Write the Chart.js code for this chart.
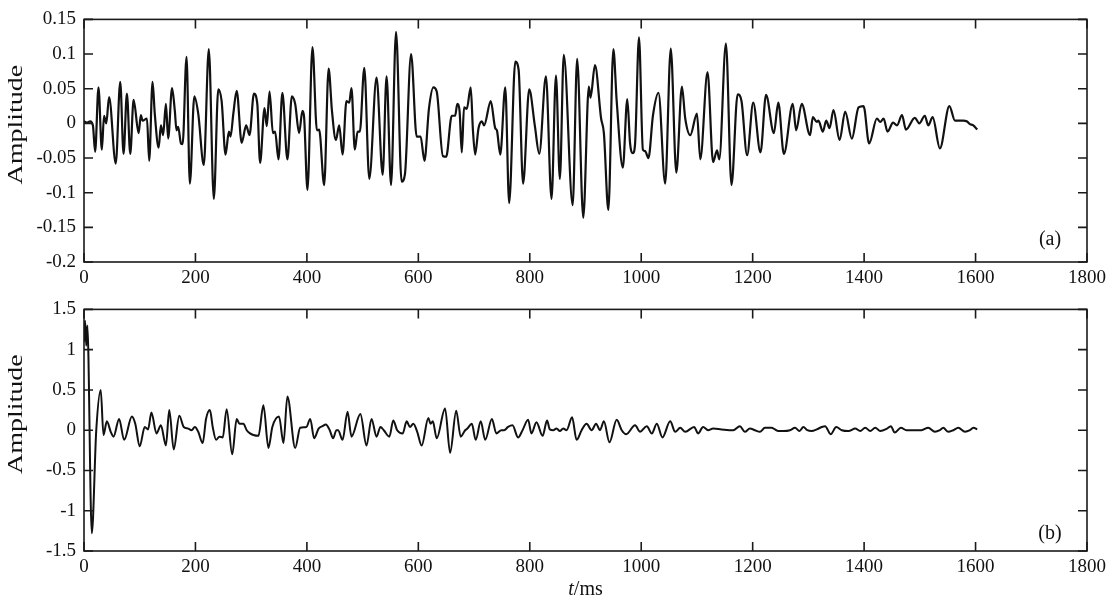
<!DOCTYPE html>
<html>
<head>
<meta charset="utf-8">
<script src="https://cdn.jsdelivr.net/npm/chart.js@4.4.1/dist/chart.umd.min.js"></script>
<style>
  body { margin: 0; background: #fff; width: 1113px; height: 600px; overflow: hidden; position: relative; }
  #wa { position: absolute; left: 0; top: 0; }
  #wb { position: absolute; left: 0; top: 290px; }
  #xt { position: absolute; left: 84px; width: 1003px; top: 577px; text-align: center;
        font-family: 'Liberation Serif', serif; font-size: 20px; color: #111; }
</style>
</head>
<body>
<canvas id="wa" width="1113" height="290"></canvas>
<canvas id="wb" width="1113" height="310"></canvas>
<div id="xt"><i>t</i>/ms</div>
<script>
// (a) trace: time (ms) and amplitude at its turning points
let timeA = [0,6,11,16,20,26,32,36,40,45,57,65,71,77,83,89,98,102,105,113,117,123,127,134,138,142,147,151,158,163,166,169,174,177,184,190,198,205,215,224,233,241,247,254,260,263,268,274,283,291,297,305,311,316,324,328,333,339,343,349,356,365,373,379,386,392,395,401,410,418,422,431,439,445,452,458,464,471,476,480,486,491,495,503,512,525,536,543,551,560,570,576,587,597,604,611,619,627,633,644,650,660,666,670,674,678,682,687,694,698,702,708,714,718,730,738,741,747,756,763,774,780,788,799,809,817,829,839,847,854,861,877,885,896,906,909,917,928,933,941,950,956,967,975,980,985,989,996,1003,1007,1013,1021,1031,1043,1053,1063,1073,1079,1088,1100,1106,1119,1129,1136,1140,1152,1162,1173,1180,1190,1201,1214,1224,1238,1246,1256,1272,1278,1288,1303,1308,1315,1318,1326,1332,1338,1345,1356,1366,1378,1390,1399,1409,1423,1429,1435,1442,1452,1459,1468,1475,1491,1499,1509,1515,1523,1536,1553,1563,1578,1584,1590,1596,1603];
let ampA = [0.003,0.001,0.003,-0.003,-0.041,0.052,-0.038,0.011,0.000,0.038,-0.058,0.060,-0.044,0.043,-0.044,0.034,-0.014,0.012,0.004,0.007,-0.054,0.060,0.014,-0.035,-0.003,-0.017,0.028,-0.022,0.051,0.018,-0.010,-0.005,-0.029,-0.030,0.096,-0.087,0.039,0.014,-0.060,0.107,-0.109,0.049,0.032,-0.045,-0.012,-0.019,0.014,0.047,-0.028,-0.003,-0.017,0.043,0.028,-0.057,0.022,-0.004,0.046,-0.014,-0.012,-0.052,0.044,-0.052,0.039,0.028,-0.014,0.018,0.009,-0.096,0.110,-0.010,-0.009,-0.089,0.079,0.018,-0.024,-0.003,-0.045,0.032,0.030,0.051,-0.038,-0.012,-0.012,0.080,-0.080,0.066,-0.074,0.068,-0.089,0.132,-0.084,-0.073,0.100,-0.019,-0.019,-0.054,0.021,0.052,0.046,-0.047,-0.048,0.011,0.011,0.028,0.018,-0.042,0.023,0.021,0.052,-0.010,-0.045,-0.007,0.003,-0.003,0.032,-0.007,-0.010,-0.045,0.052,-0.115,0.089,0.077,-0.087,0.049,-0.003,-0.044,0.068,-0.109,0.069,-0.080,0.099,-0.118,0.093,-0.136,0.053,0.037,0.084,0.007,-0.014,-0.125,0.107,0.032,-0.064,0.035,-0.029,-0.043,-0.029,0.124,-0.038,-0.040,-0.050,0.011,0.044,-0.087,0.108,-0.071,0.053,0.007,-0.017,0.014,-0.052,0.074,-0.056,-0.039,-0.052,0.115,-0.089,0.042,0.032,-0.046,0.030,-0.042,0.041,-0.014,0.030,-0.044,0.028,-0.010,0.028,-0.017,0.009,0.002,0.004,-0.012,0.004,-0.007,0.019,-0.024,0.017,-0.022,0.023,0.025,-0.029,0.007,0.002,0.007,-0.012,0.001,-0.003,0.012,-0.009,0.008,0.000,0.011,-0.003,0.009,-0.036,0.025,0.004,0.004,0.003,-0.001,-0.003,-0.009];

// (b) trace
let timeB = [0,2,4,6,14,22,30,35,41,48,53,63,72,86,92,100,109,115,121,130,138,147,153,161,171,179,187,193,199,205,213,219,226,231,237,243,249,256,266,274,279,286,292,298,304,313,322,331,338,350,358,365,379,388,399,406,413,421,428,434,441,447,453,456,464,473,480,496,507,516,525,532,538,548,555,562,572,579,585,591,598,606,618,622,626,633,648,657,668,676,684,688,696,703,712,720,732,740,749,754,761,769,779,787,797,803,812,823,831,836,842,848,854,860,866,876,884,893,902,911,919,926,933,943,956,965,973,989,998,1010,1019,1028,1038,1052,1061,1070,1079,1095,1102,1111,1120,1129,1144,1165,1177,1186,1195,1204,1213,1222,1234,1240,1246,1255,1267,1276,1284,1291,1298,1306,1315,1324,1330,1340,1350,1360,1372,1384,1393,1402,1411,1420,1429,1441,1448,1455,1466,1476,1488,1503,1515,1527,1536,1542,1551,1560,1569,1581,1590,1596,1603];
let ampB = [1.10,1.36,1.05,1.30,-1.28,0.0,0.50,-0.06,0.11,-0.02,-0.08,0.14,-0.12,0.17,0.08,-0.20,0.04,0.01,0.22,-0.04,0.06,-0.19,0.25,-0.24,0.18,0.04,0.02,0.0,0.04,-0.02,-0.16,0.14,0.25,0.04,-0.12,-0.08,-0.09,0.26,-0.30,0.14,0.08,0.08,0.0,-0.04,-0.06,-0.07,0.31,-0.22,0.04,0.17,-0.16,0.42,-0.22,0.03,0.04,0.14,-0.10,0.02,0.05,0.07,0.0,-0.10,0.0,0.0,-0.12,0.23,-0.08,0.20,-0.19,0.14,-0.08,0.04,0.0,-0.08,0.12,0.0,-0.04,0.11,0.04,0.08,-0.02,-0.19,0.15,0.08,0.11,-0.10,0.27,-0.28,0.24,-0.08,0.0,0.02,0.08,-0.12,0.11,-0.12,0.14,-0.04,0.0,0.0,0.04,0.06,-0.09,0.0,0.13,-0.04,0.10,-0.07,0.12,0.01,0.0,0.02,-0.01,0.02,0.0,0.16,-0.12,0.0,0.08,0.0,0.08,0.0,0.11,-0.15,0.13,0.0,-0.05,0.06,-0.02,0.05,-0.04,0.08,-0.09,0.11,-0.02,0.03,-0.02,0.04,-0.04,0.04,0.0,0.02,0.01,0.0,0.05,-0.02,0.02,0.0,-0.02,0.03,0.03,0.01,-0.01,-0.01,0.0,0.03,-0.01,0.04,0.0,-0.01,0.01,0.04,0.05,-0.05,0.04,0.0,-0.01,0.02,-0.01,0.03,-0.01,0.03,-0.01,0.02,0.05,-0.03,0.03,0.0,0.0,0.0,0.03,-0.02,0.0,0.03,-0.02,0.0,0.03,-0.02,0.0,0.03,0.01];

let xTicks = [0,200,400,600,800,1000,1200,1400,1600,1800];
let yTicksA = [0.15,0.1,0.05,0,-0.05,-0.1,-0.15,-0.2];
let yTicksB = [1.5,1,0.5,0,-0.5,-1,-1.5];

const serif = 'Liberation Serif';

// box with inward ticks on all four sides, panel tag and stretched y label
const framePlugin = {
  id: 'frame',
  afterDraw(chart, args, opts) {
    const { ctx, chartArea: a, scales: { x, y } } = chart;
    ctx.save();
    ctx.strokeStyle = '#1a1a1a';
    ctx.lineWidth = 1.6;
    ctx.strokeRect(a.left, a.top, a.right - a.left, a.bottom - a.top);
    ctx.beginPath();
    x.ticks.forEach(t => {
      const p = x.getPixelForValue(t.value);
      ctx.moveTo(p, a.bottom); ctx.lineTo(p, a.bottom - 9);
      ctx.moveTo(p, a.top); ctx.lineTo(p, a.top + 9);
    });
    y.ticks.forEach(t => {
      const p = y.getPixelForValue(t.value);
      ctx.moveTo(a.left, p); ctx.lineTo(a.left + 9, p);
      ctx.moveTo(a.right, p); ctx.lineTo(a.right - 9, p);
    });
    ctx.stroke();

    ctx.fillStyle = '#111';
    ctx.textAlign = 'center';
    ctx.textBaseline = 'middle';
    ctx.font = '20px "' + serif + '"';
    ctx.fillText(opts.tag, a.right - 37, a.bottom - opts.tagDy);

    ctx.translate(17, (a.top + a.bottom) / 2 - 16);
    ctx.rotate(-Math.PI / 2);
    ctx.scale(1.4, 1);
    ctx.fillText('Amplitude', 0, 0);
    ctx.restore();
  }
};

function makeChart(id, times, amps, yTicks, tag, tagDy, padTop, xAxisH, lw) {
  return new Chart(document.getElementById(id), {
    type: 'line',
    data: {
      datasets: [{
        data: times.map((t, i) => ({ x: t, y: amps[i] })),
        borderColor: '#111',
        borderWidth: lw,
        pointRadius: 0,
        tension: 0.4,
        cubicInterpolationMode: 'monotone',
        fill: false
      }]
    },
    options: {
      responsive: false,
      animation: false,
      layout: { padding: { left: 0, right: 26, top: padTop, bottom: 0 } },
      plugins: {
        legend: { display: false },
        tooltip: { enabled: false },
        frame: { tag: tag, tagDy: tagDy }
      },
      scales: {
        x: {
          type: 'linear', min: 0, max: 1800,
          grid: { display: false, drawTicks: false },
          border: { display: false },
          afterBuildTicks: s => { s.ticks = xTicks.map(v => ({ value: v })); },
          afterFit: s => { s.height = xAxisH; },
          ticks: {
            padding: 5, color: '#111', maxRotation: 0, autoSkip: false,
            font: { family: serif, size: 19 },
            callback: v => String(v)
          }
        },
        y: {
          type: 'linear', min: yTicks[yTicks.length - 1], max: yTicks[0],
          grid: { display: false, drawTicks: false },
          border: { display: false },
          afterBuildTicks: s => { s.ticks = yTicks.map(v => ({ value: v })); },
          afterFit: s => { s.width = 84; },
          ticks: {
            padding: 8, color: '#111', autoSkip: false,
            font: { family: serif, size: 19 },
            callback: v => String(v)
          }
        }
      }
    },
    plugins: [framePlugin]
  });
}

makeChart('wa', timeA, ampA, yTicksA, '(a)', 22, 13, 28, 2.2);
makeChart('wb', timeB, ampB, yTicksB, '(b)', 17, 12, 49, 2.0);
</script>
</body>
</html>
